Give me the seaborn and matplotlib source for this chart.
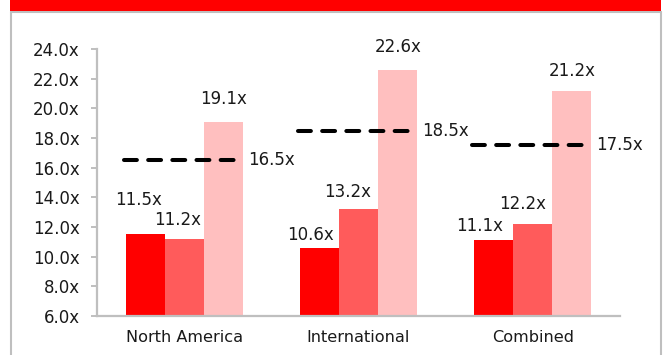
import matplotlib
matplotlib.use("Agg")
import matplotlib.pyplot as plt
from matplotlib.patches import Rectangle
from matplotlib.lines import Line2D
import seaborn as sns
import pandas as pd

# ---- data ----
categories = ["North America", "International", "Combined"]
series_names = ["Series 1", "Series 2", "Series 3"]
series_1 = [11.5, 10.6, 11.1]
series_2 = [11.2, 13.2, 12.2]
series_3 = [19.1, 22.6, 21.2]
averages = [16.5, 18.5, 17.5]
y_ticks = [6, 8, 10, 12, 14, 16, 18, 20, 22, 24]

colors = ["#FF0000", "#FF5B5B", "#FFBFBF"]
# label offsets (pixels) relative to bar top centre, per category then series
label_dx = [[-7, -7, 0], [-9, -11, 1], [-14, -10, 0]]
label_dy = [[34, 19, 23], [13, 17, 23], [14, 20, 20]]

df = pd.DataFrame(
    [(c, s, v) for s, vals in zip(series_names, [series_1, series_2, series_3])
     for c, v in zip(categories, vals)],
    columns=["region", "series", "multiple"],
)

sns.set_style("white")
plt.rcParams["font.family"] = ["DejaVu Sans"]
TXT = "#1a1a1a"
GRID = "#BFBFBF"

W, H = 667, 355
fig = plt.figure(figsize=(W / 100, H / 100), dpi=100)
ax = fig.add_axes([97 / W, 1 - 316 / H, (620 - 97) / W, (316 - 49) / H])

sns.barplot(data=df, x="region", y="multiple", hue="series", palette=colors,
            hue_order=series_names, order=categories, width=0.672, gap=0,
            saturation=1, dodge=True, legend=False, linewidth=0,
            edgecolor="none", ax=ax)

ax.set_ylim(6, 24)
ax.set_xlim(-0.5, 2.5)
ax.set_yticks(y_ticks)
ax.set_yticklabels([f"{t:.1f}x" for t in y_ticks])
ax.set_xlabel("")
ax.set_ylabel("")

for side in ["top", "right"]:
    ax.spines[side].set_visible(False)
for side in ["left", "bottom"]:
    ax.spines[side].set_color(GRID)
    ax.spines[side].set_linewidth(1.6)
ax.tick_params(axis="y", which="major", left=True, length=4.3, width=1.4,
               color=GRID, pad=8, labelsize=12, labelcolor=TXT)
ax.tick_params(axis="x", which="major", bottom=False, length=0, pad=10,
               labelsize=11.6, labelcolor=TXT)

# value labels
for j, cont in enumerate(ax.containers):
    for i, bar in enumerate(cont):
        v = bar.get_height()
        ax.annotate(f"{v:.1f}x",
                    (bar.get_x() + bar.get_width() / 2, v),
                    xytext=(label_dx[i][j], label_dy[i][j]),
                    textcoords="offset pixels", ha="center", va="center",
                    fontsize=12, color=TXT, annotation_clip=False)

# dashed average lines
for i, a in enumerate(averages):
    ax.plot([i - 0.347, i + 0.30], [a, a], color="black", lw=2.9,
            dashes=(3.2, 2.8), dash_capstyle="round", solid_capstyle="round")
    ax.text(i + 0.365, a, f"{a:.1f}x", ha="left", va="center",
            fontsize=12, color=TXT)

# frame: red banner and grey box
fig.patches.append(Rectangle((10 / W, 1 - 11 / H), (661 - 10) / W, 11 / H,
                             transform=fig.transFigure, facecolor="#FF0000",
                             edgecolor="none", zorder=5))
for xs, ys in [([11 / W, 11 / W], [0, 1 - 11.5 / H]),
               ([661 / W, 661 / W], [0, 1 - 11.5 / H]),
               ([11 / W, 661 / W], [1 - 12 / H, 1 - 12 / H])]:
    fig.lines.append(Line2D(xs, ys, transform=fig.transFigure, color=GRID,
                            lw=1.5, zorder=4))

fig.savefig("out.png", dpi=100)
